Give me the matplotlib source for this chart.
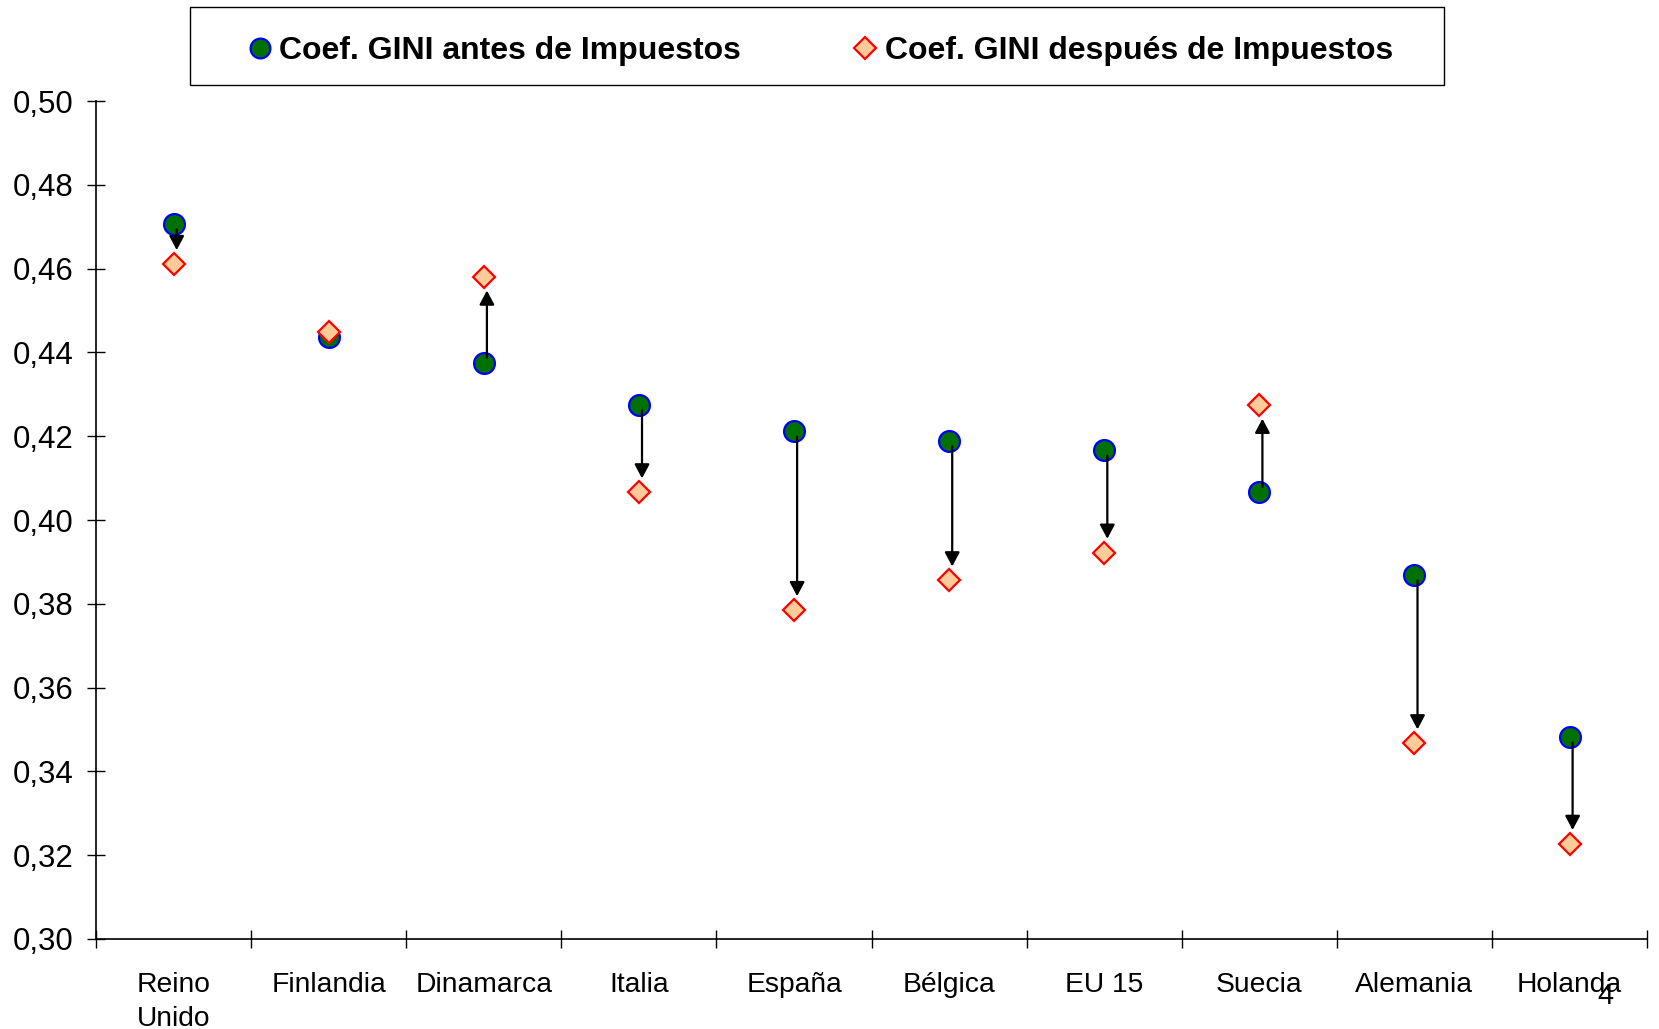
import matplotlib
matplotlib.use('Agg')
import matplotlib.pyplot as plt
from matplotlib.patches import Rectangle
from matplotlib.ticker import FuncFormatter, FixedLocator
import numpy as np

plt.rcParams['font.family'] = ['Liberation Sans', 'DejaVu Sans']

# ---------- data ----------
paises = ['Reino\nUnido', 'Finlandia', 'Dinamarca', 'Italia', 'España',
          'Bélgica', 'EU 15', 'Suecia', 'Alemania', 'Holanda']
gini_antes = [0.4707, 0.4437, 0.4374, 0.4275, 0.4212,
              0.4189, 0.4167, 0.4066, 0.3869, 0.3482]
gini_despues = [0.4611, 0.4449, 0.4581, 0.4066, 0.3785,
                0.3856, 0.3922, 0.4275, 0.3467, 0.3227]
y_ticks = [0.30, 0.32, 0.34, 0.36, 0.38, 0.40, 0.42, 0.44, 0.46, 0.48, 0.50]

# ---------- figure ----------
fig = plt.figure(figsize=(16.59, 10.29), dpi=100)
ax = fig.add_axes([0.0579, 0.0875, 0.9349, 0.8143])

x = np.arange(len(paises)) + 0.5

ax.plot(x, gini_antes, linestyle='none', marker='o', markersize=15,
        markerfacecolor='#007000', markeredgecolor='#0000FF',
        markeredgewidth=1.6, zorder=3, label='Coef. GINI antes de Impuestos')

for xi, a, d in zip(x, gini_antes, gini_despues):
    if abs(a - d) < 0.003:
        continue
    ax.annotate('', xy=(xi + 0.02, d), xytext=(xi + 0.02, a),
                arrowprops=dict(arrowstyle='-|>,head_length=0.85,head_width=0.45',
                                color='black', lw=1.6, shrinkA=4, shrinkB=10),
                zorder=4)

ax.plot(x, gini_despues, linestyle='none', marker='D', markersize=11.5,
        markerfacecolor='#FFCC99', markeredgecolor='#FF0000',
        markeredgewidth=1.6, zorder=5, label='Coef. GINI después de Impuestos')

# ---------- axes ----------
ax.set_xlim(0, len(paises))
ax.set_ylim(0.30, 0.50)
ax.spines['top'].set_visible(False)
ax.spines['right'].set_visible(False)
ax.spines['left'].set_linewidth(1.2)
ax.spines['bottom'].set_linewidth(1.2)

ax.set_yticks(y_ticks)
ax.yaxis.set_major_formatter(FuncFormatter(lambda v, p: f'{v:.2f}'.replace('.', ',')))
ax.tick_params(axis='y', direction='inout', length=13, width=1, pad=10,
               labelsize=22.5, colors='black')

ax.set_xticks(x)
ax.set_xticklabels(paises, linespacing=1.4)
ax.xaxis.set_minor_locator(FixedLocator(np.arange(len(paises) + 1)))
ax.tick_params(axis='x', which='major', length=0, pad=24, labelsize=20.3)
ax.tick_params(axis='x', which='minor', direction='inout', length=13, width=1)
for lab in ax.get_xticklabels():
    lab.set_verticalalignment('top')

# ---------- legend ----------
fig.patches.append(Rectangle((190 / 1659, 1 - 85 / 1029), 1254 / 1659, 78 / 1029,
                             transform=fig.transFigure, facecolor='white',
                             edgecolor='black', linewidth=1.0))
leg = fig.legend(loc='center', ncol=2,
                 bbox_to_anchor=(820 / 1659, 1 - 51 / 1029),
                 prop={'weight': 'bold', 'size': 23}, frameon=False,
                 handlelength=0.8, handletextpad=0.2, columnspacing=3.5,
                 borderpad=0, markerscale=0.95)

fig.text(1605 / 1659, 1 - 996 / 1029, '4', fontsize=21, ha='center', va='center')

fig.savefig('out.png', dpi=100)
